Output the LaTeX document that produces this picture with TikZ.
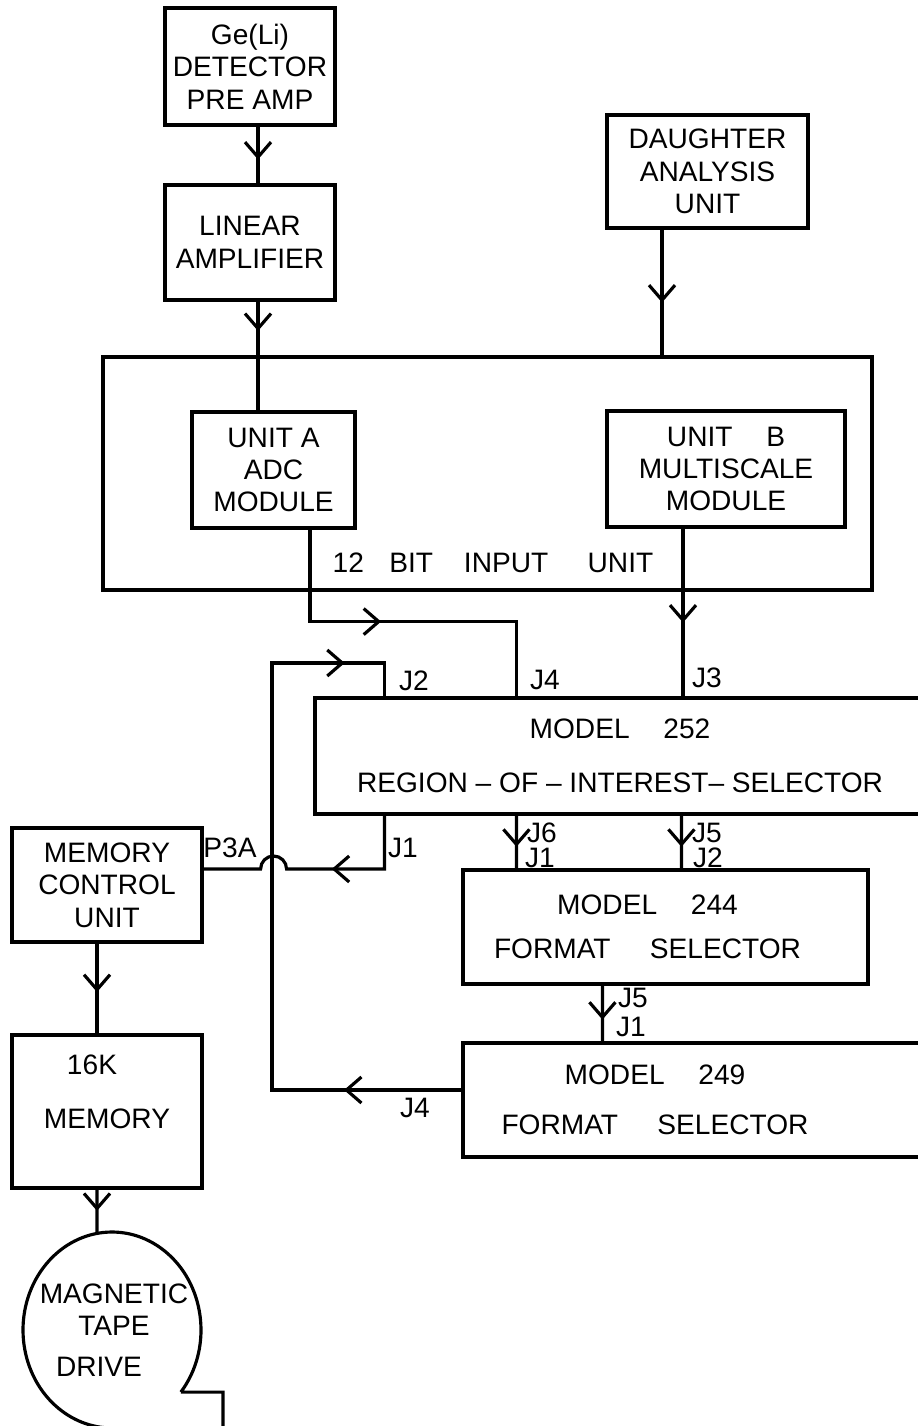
\documentclass[tikz,border=0pt]{standalone}
\usepackage{fontspec}
\setmainfont{Liberation Sans}
\usetikzlibrary{arrows.meta, decorations.markings}

\begin{document}
\begin{tikzpicture}[
    x=0.1mm, y=-0.1mm,
    font=\fontsize{8}{9.2}\selectfont,
    blk/.style={rectangle, draw=black, line width=0.9pt, inner sep=0pt, align=center},
    wire/.style={line width=0.9pt},
    barb/.style={postaction={decorate, decoration={markings,
      mark=at position #1 with {\arrow{Straight Barb[length=1.5mm, width=2.6mm]}}}}},
    jlab/.style={inner sep=0pt},
  ]
  \useasboundingbox (0,0) rectangle (918,1426);

  \node[blk, minimum width=17mm, minimum height=11.7mm] (gel) at (250,66.5) {Ge(Li)\\DETECTOR\\PRE AMP};
  \node[blk, minimum width=17mm, minimum height=11.5mm] (linamp) at (250,242.5) {LINEAR\\AMPLIFIER};
  \node[blk, minimum width=20.1mm, minimum height=11.3mm] (daughter) at (707.5,171.5) {DAUGHTER\\ANALYSIS\\UNIT};

  \node[blk, minimum width=76.9mm, minimum height=23.3mm] (inunit) at (487.5,473.5) {};
  \node (inlbl) at (493,563) {12\hspace{0.9em}BIT\hspace{1.1em}INPUT\hspace{1.4em}UNIT};
  \node[blk, minimum width=16.3mm, minimum height=11.6mm] (unitA) at (273.5,470) {UNIT A\\ADC\\MODULE};
  \node[blk, minimum width=23.8mm, minimum height=11.6mm] (unitB) at (726,469) {UNIT\hspace{1.2em}B\\MULTISCALE\\MODULE};

  \node[blk, minimum width=61mm, minimum height=11.6mm] (m252) at (620,756)
    {MODEL\hspace{1.2em}252\\[2.2mm]REGION – OF – INTEREST– SELECTOR};
  \node[blk, minimum width=40.5mm, minimum height=11.4mm,
    label={[xshift=-1.8mm, align=center]center:MODEL\hspace{1.2em}244\\[1.2mm]FORMAT\hspace{1.4em}SELECTOR}] (m244) at (665.5,927) {};
  \node[blk, minimum width=46.7mm, minimum height=11.4mm,
    label={[xshift=-4.15mm, align=center]center:MODEL\hspace{1.2em}249\\[1.8mm]FORMAT\hspace{1.4em}SELECTOR}] (m249) at (696.5,1100) {};

  \node[blk, minimum width=19mm, minimum height=11.4mm] (memctl) at (107,885) {MEMORY\\CONTROL\\UNIT};
  \node[blk, minimum width=19mm, minimum height=15.3mm,
    label={[yshift=2mm, align=center]center:16K\kern3mm\\[2.2mm]MEMORY}] (mem16) at (107,1111.5) {};

  \coordinate (tapec) at (112,1330);
  \coordinate (tapetop) at (97,1233);
  \draw[wire] (tapec) ++(-39.3:8.9mm and 9.8mm) coordinate (tapecnr)
    arc[start angle=-39.3, end angle=270, x radius=8.9mm, y radius=9.8mm]
    -- ++(111,0) |- (tapecnr);
  \node[align=center] (tape) at (114,1330) {MAGNETIC\\TAPE\\[0.8mm]DRIVE\kern3mm};

  \node[jlab] (lj2)  at (414,681)  {J2};
  \node[jlab] (lj4)  at (545,680)  {J4};
  \node[jlab] (lj3)  at (707,678)  {J3};
  \node[jlab] (lj1)  at (403,848)  {J1};
  \node[jlab] (lp3a) at (230,848)  {P3A};
  \node[jlab] (lj6)  at (542,833)  {J6};
  \node[jlab] (lj1b) at (540,858)  {J1};
  \node[jlab] (lj5)  at (707,833)  {J5};
  \node[jlab] (lj2b) at (708,858)  {J2};
  \node[jlab] (lj5b) at (633,998)  {J5};
  \node[jlab] (lj1c) at (631,1027) {J1};
  \node[jlab] (lj4b) at (415,1108) {J4};

  \draw[wire, barb=0.58] ([xshift=0.8mm]gel.south) -- ([xshift=0.8mm]linamp.north);
  \draw[wire, barb=0.27] ([xshift=0.8mm]linamp.south) coordinate (la) -- (la |- unitA.north);
  \draw[wire, barb=0.58] ([xshift=-4.55mm]daughter.south) coordinate (da) -- (da |- inunit.north);
  \draw[wire, barb=0.437] ([xshift=3.65mm]unitA.south) -- ++(0,92) -| ([xshift=20.3mm]m252.north west);
  \draw[wire, barb=0.56] ([xshift=-4.3mm]unitB.south) coordinate (ub) -- (ub |- m252.north);
  \draw[wire, barb=0.59] ([xshift=20.3mm]m252.south west) -- ([xshift=5.5mm]m244.north west);
  \draw[wire, barb=0.59] ([xshift=36.8mm]m252.south west) -- ([xshift=22mm]m244.north west);
  \draw[wire, barb=0.61] ([xshift=14.1mm]m244.south west) -- ([xshift=14.1mm]m249.north west);
  \coordinate (loopc) at (272,663);
  \draw[wire, barb=0.154, barb=0.904] ([yshift=1mm]m249.west) -| (loopc) -| ([xshift=7.1mm]m252.north west);
  \draw[wire, barb=0.426] ([xshift=7.1mm]m252.south west) |- ([xshift=8.3mm, yshift=1.6mm]memctl.east)
    arc[start angle=0, end angle=180, radius=1.3mm] -- ([yshift=1.6mm]memctl.east);
  \draw[wire, barb=0.54] ([xshift=-1mm]memctl.south) -- ([xshift=-1mm]mem16.north);
  \draw[wire, barb=0.49] ([xshift=-1mm]mem16.south) -- (tapetop);
\end{tikzpicture}
\end{document}
